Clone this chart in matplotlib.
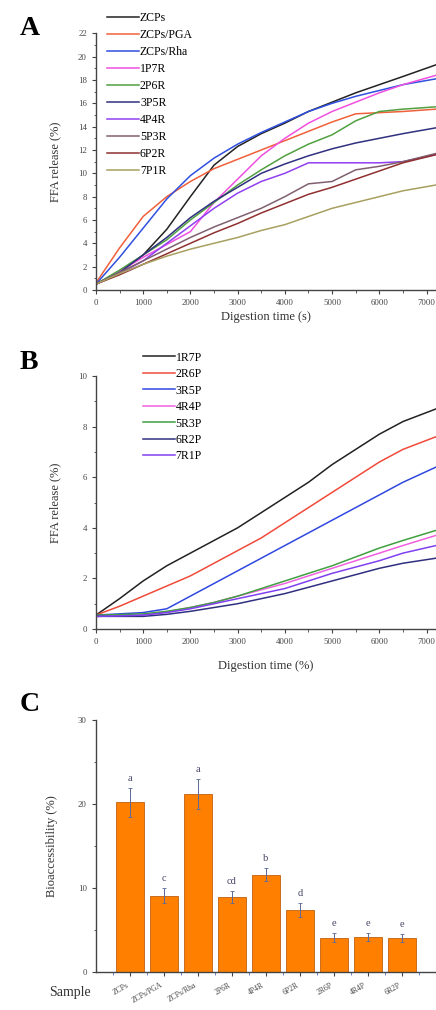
import numpy as np
import matplotlib
matplotlib.use('Agg')
import matplotlib.pyplot as plt
from matplotlib.ticker import MultipleLocator

plt.rcParams['font.family'] = ['Liberation Serif', 'DejaVu Serif']

# ---- panel A data (time in s, FFA release in %) ----
t_a = [0, 500, 1000, 1500, 2000, 2500, 3000, 3500, 4000, 4500, 5000, 5500, 6000, 6500, 7200]
zcps     = [0.5, 1.5, 3.0, 5.2, 8.0, 10.7, 12.3, 13.4, 14.3, 15.3, 16.1, 16.9, 17.6, 18.3, 19.3]
zcps_pga = [0.6, 3.6, 6.3, 8.0, 9.3, 10.4, 11.2, 12.0, 12.8, 13.6, 14.4, 15.1, 15.2, 15.3, 15.5]
zcps_rha = [0.5, 2.8, 5.3, 7.8, 9.8, 11.3, 12.5, 13.5, 14.4, 15.3, 16.0, 16.6, 17.1, 17.6, 18.1]
p1r7 = [0.5, 1.6, 2.8, 3.9, 5.0, 7.5, 9.5, 11.5, 13.0, 14.3, 15.3, 16.1, 16.9, 17.6, 18.4]
p2r6 = [0.5, 1.7, 3.0, 4.3, 6.0, 7.5, 9.0, 10.3, 11.5, 12.5, 13.3, 14.5, 15.3, 15.5, 15.7]
p3r5 = [0.5, 1.5, 3.0, 4.5, 6.2, 7.6, 8.8, 10.0, 10.8, 11.5, 12.1, 12.6, 13.0, 13.4, 13.9]
p4r4 = [0.5, 1.4, 2.5, 4.0, 5.5, 7.0, 8.3, 9.3, 10.0, 10.9, 10.9, 10.9, 10.9, 11.0, 11.6]
p5r3 = [0.5, 1.5, 2.5, 3.5, 4.5, 5.4, 6.2, 7.0, 8.0, 9.1, 9.3, 10.3, 10.6, 11.0, 11.7]
p6r2 = [0.5, 1.3, 2.2, 3.1, 4.0, 4.9, 5.7, 6.6, 7.4, 8.2, 8.8, 9.5, 10.2, 10.9, 11.6]
p7r1 = [0.5, 1.4, 2.2, 2.9, 3.5, 4.0, 4.5, 5.1, 5.6, 6.3, 7.0, 7.5, 8.0, 8.5, 9.0]
labels_a = ['ZCPs', 'ZCPs/PGA', 'ZCPs/Rha', '1P7R', '2P6R', '3P5R', '4P4R', '5P3R', '6P2R', '7P1R']
colors_a = ['#222222', '#f0603a', '#3050e0', '#f050e0', '#50a040',
            '#303080', '#9040f0', '#806070', '#903030', '#a8a060']

# ---- panel B data ----
t_b = [0, 500, 1000, 1500, 2000, 2500, 3000, 3500, 4000, 4500, 5000, 5500, 6000, 6500, 7200]
r1p7 = [0.55, 1.2, 1.9, 2.5, 3.0, 3.5, 4.0, 4.6, 5.2, 5.8, 6.5, 7.1, 7.7, 8.2, 8.7]
r2p6 = [0.55, 0.9, 1.3, 1.7, 2.1, 2.6, 3.1, 3.6, 4.2, 4.8, 5.4, 6.0, 6.6, 7.1, 7.6]
r3p5 = [0.55, 0.6, 0.65, 0.8, 1.3, 1.8, 2.3, 2.8, 3.3, 3.8, 4.3, 4.8, 5.3, 5.8, 6.4]
r4p4 = [0.5, 0.52, 0.55, 0.68, 0.85, 1.05, 1.3, 1.55, 1.8, 2.1, 2.4, 2.7, 3.0, 3.3, 3.7]
r5p3 = [0.55, 0.57, 0.6, 0.7, 0.85, 1.05, 1.3, 1.6, 1.9, 2.2, 2.5, 2.85, 3.2, 3.5, 3.9]
r6p2 = [0.5, 0.5, 0.5, 0.58, 0.7, 0.85, 1.0, 1.2, 1.4, 1.65, 1.9, 2.15, 2.4, 2.6, 2.8]
r7p1 = [0.5, 0.52, 0.55, 0.65, 0.8, 1.0, 1.2, 1.4, 1.6, 1.9, 2.2, 2.45, 2.7, 3.0, 3.3]
labels_b = ['1R7P', '2R6P', '3R5P', '4R4P', '5R3P', '6R2P', '7R1P']
colors_b = ['#222222', '#f04a3a', '#3048e0', '#f060e0', '#40a040', '#303080', '#8040f0']

# ---- panel C data ----
samples = ['ZCPs', 'ZCPs/PGA', 'ZCPs/Rha', '2P6R', '4P4R', '6P2R', '2R6P', '4R4P', '6R2P']
bioacc = [20.2, 9.1, 21.2, 8.9, 11.6, 7.4, 4.1, 4.2, 4.05]
bio_err = [1.7, 0.9, 1.8, 0.7, 0.8, 0.8, 0.5, 0.5, 0.5]
letters = ['a', 'c', 'a', 'cd', 'b', 'd', 'e', 'e', 'e']

fig = plt.figure(figsize=(4.36, 10.10), dpi=100)

tick_fs = 6.3
lab_fs = 9


def style_axes(ax):
    ax.spines['top'].set_visible(False)
    ax.spines['right'].set_visible(False)
    for s in ['left', 'bottom']:
        ax.spines[s].set_linewidth(1.0)
        ax.spines[s].set_color('#444444')
    ax.tick_params(which='both', direction='out', labelsize=tick_fs, colors='#444444')
    ax.tick_params(which='major', length=3, width=0.8)
    ax.tick_params(which='minor', length=1.8, width=0.6)


# Panel A
axA = fig.add_axes([0.220, 0.7129, 0.780, 0.2541])
series_a = [zcps, zcps_pga, zcps_rha, p1r7, p2r6, p3r5, p4r4, p5r3, p6r2, p7r1]
for ys, lab, c in zip(series_a, labels_a, colors_a):
    axA.plot(t_a, ys, color=c, lw=1.1, label=lab)
axA.set_xlim(0, 7200)
axA.set_ylim(0, 22)
axA.xaxis.set_major_locator(MultipleLocator(1000))
axA.xaxis.set_minor_locator(MultipleLocator(500))
axA.yaxis.set_major_locator(MultipleLocator(2))
axA.yaxis.set_minor_locator(MultipleLocator(1))
style_axes(axA)
axA.set_xlabel('Digestion time (s)', fontsize=lab_fs, color='#333333', labelpad=3)
axA.set_ylabel('FFA release (%)', fontsize=lab_fs, color='#333333', labelpad=12)
axA.legend(loc='upper left', bbox_to_anchor=(0.015, 1.105), frameon=False, fontsize=8.5,
           handlelength=2.7, handletextpad=0.1, labelspacing=0.42, borderpad=0)
fig.text(0.045, 0.972, 'A', fontsize=20, fontweight='bold', va='center')

# Panel B
axB = fig.add_axes([0.220, 0.3772, 0.780, 0.2505])
series_b = [r1p7, r2p6, r3p5, r4p4, r5p3, r6p2, r7p1]
for ys, lab, c in zip(series_b, labels_b, colors_b):
    axB.plot(t_b, ys, color=c, lw=1.1, label=lab)
axB.set_xlim(0, 7200)
axB.set_ylim(0, 10)
axB.xaxis.set_major_locator(MultipleLocator(1000))
axB.xaxis.set_minor_locator(MultipleLocator(500))
axB.yaxis.set_major_locator(MultipleLocator(2))
axB.yaxis.set_minor_locator(MultipleLocator(1))
style_axes(axB)
axB.set_xlabel('Digestion time (%)', fontsize=lab_fs, color='#333333', labelpad=10)
axB.set_ylabel('FFA release (%)', fontsize=lab_fs, color='#333333', labelpad=12)
axB.legend(loc='upper left', bbox_to_anchor=(0.12, 1.12), frameon=False, fontsize=8.5,
           handlelength=2.7, handletextpad=0.1, labelspacing=0.38, borderpad=0)
fig.text(0.045, 0.641, 'B', fontsize=20, fontweight='bold', va='center')

# Panel C
axC = fig.add_axes([0.220, 0.0376, 0.780, 0.2495])
xpos = np.arange(1, len(samples) + 1)
axC.bar(xpos, bioacc, width=0.8, color='#ff8000', edgecolor='#c06010', linewidth=0.6)
axC.errorbar(xpos, bioacc, yerr=bio_err, fmt='none', ecolor='#5a6a9a',
             elinewidth=0.7, capsize=1.5, capthick=0.6)
for x, v, e, l in zip(xpos, bioacc, bio_err, letters):
    axC.text(x, v + e + 0.6, l, ha='center', va='bottom', fontsize=7.5, color='#444466')
axC.set_xlim(0, 10)
axC.set_ylim(0, 30)
axC.set_xticks(xpos)
axC.set_xticklabels(samples, rotation=30, ha='right', fontsize=5.5)
axC.set_xticks(np.arange(0.5, 10, 1), minor=True)
axC.yaxis.set_major_locator(MultipleLocator(10))
axC.yaxis.set_minor_locator(MultipleLocator(5))
style_axes(axC)
axC.tick_params(axis='x', which='minor', colors='#5070c0')
axC.tick_params(axis='x', which='major', labelsize=5.5)
axC.set_ylabel('Bioaccessibility (%)', fontsize=lab_fs, color='#333333', labelpad=14)
fig.text(0.16, 0.017, 'Sample', fontsize=10, color='#333333', ha='center', va='center')
fig.text(0.045, 0.302, 'C', fontsize=20, fontweight='bold', va='center')

fig.savefig('out.png', dpi=100)
